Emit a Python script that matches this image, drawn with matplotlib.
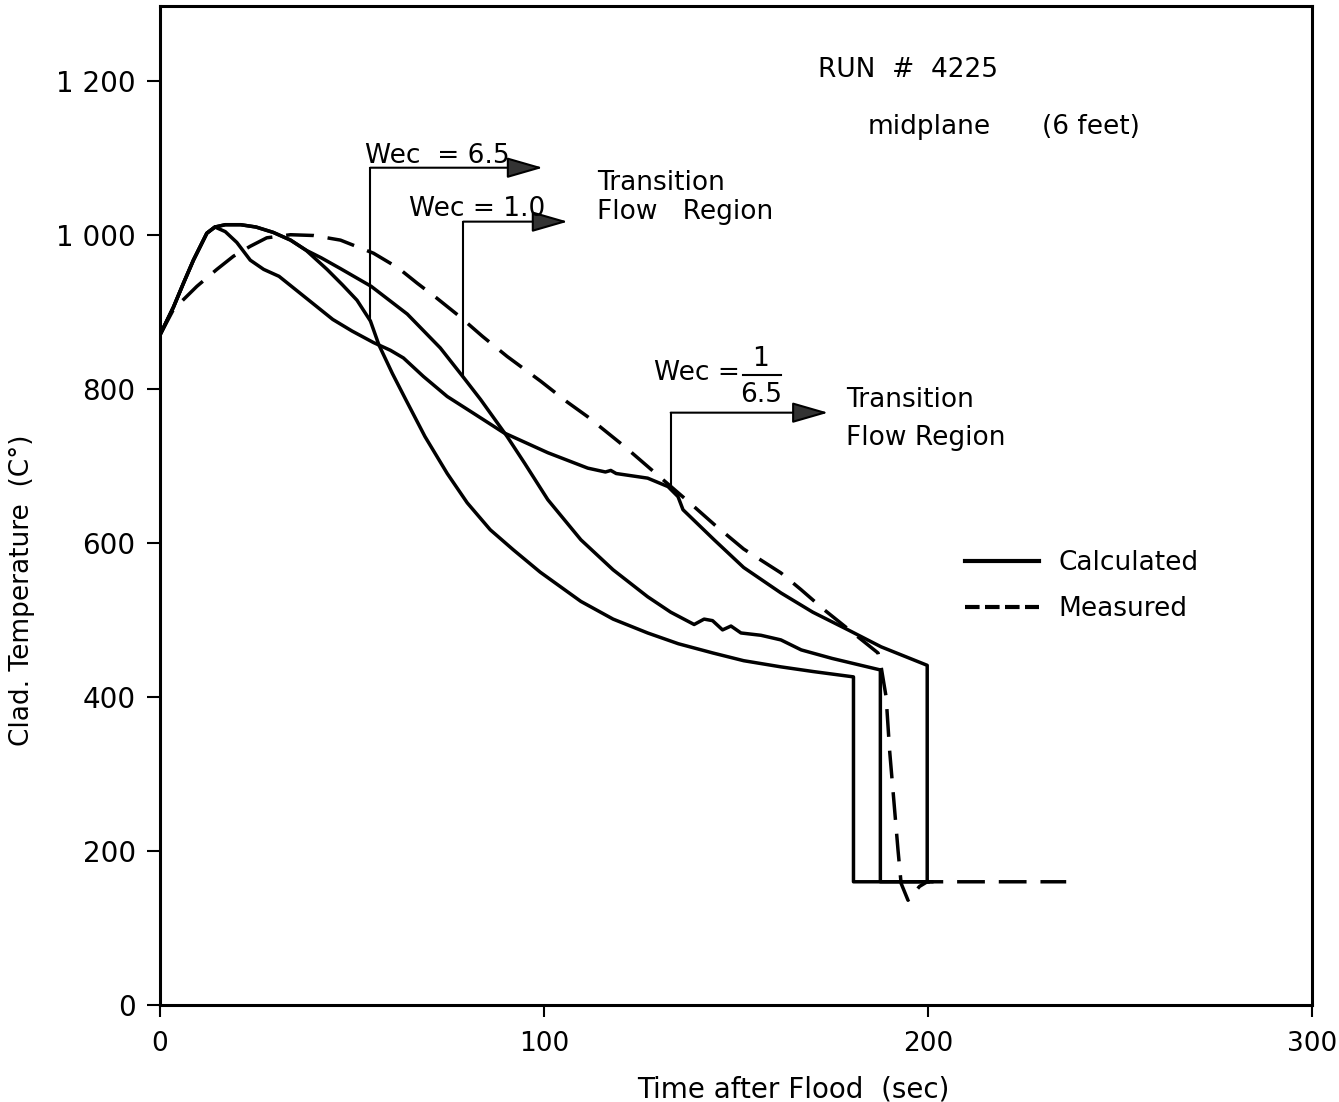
import numpy as np
import matplotlib
matplotlib.use('Agg')
import matplotlib.pyplot as plt
from matplotlib.lines import Line2D

# cladding temperature after flood, run 4225
# calculated, Wec = 6.5
t_wec65 = [0, 3.5, 6.1, 8.7, 10.4, 12.2, 14.3, 17, 21, 25, 29.5, 34, 38, 43.5, 47.5,
           51.3, 54.8, 57, 60.5, 64, 69, 74.8, 80, 86, 92, 99, 109.6, 118, 127, 135,
           144, 152, 161.7, 170, 180.6, 180.6, 200]
T_wec65 = [870, 906, 937, 967, 984, 1002, 1010, 1013, 1013, 1010, 1003, 993, 980, 955, 935,
           915, 888, 857, 820, 786, 738, 690, 652, 617, 591, 562, 524, 501, 483, 469,
           457, 447, 439, 433, 426, 160, 160]

# calculated, Wec = 1.0
t_wec10 = [0, 3.5, 6.1, 8.7, 10.4, 12.2, 14.3, 17, 21, 25, 29.5, 34, 38, 42, 47, 55,
           64.4, 73, 79, 83.5, 90.4, 95, 101, 109.6, 118, 127, 133, 139.1, 141.7, 143.9,
           146.5, 148.7, 151.3, 156.5, 161.7, 167, 175, 187.6, 187.6, 200]
T_wec10 = [870, 906, 937, 967, 984, 1002, 1010, 1013, 1013, 1010, 1003, 993, 980, 970, 956, 933,
           897, 853, 815, 786, 738, 703, 656, 604, 565, 530, 510, 494, 501, 499,
           487, 492, 483, 480, 474, 461, 450, 435, 160, 160]

# calculated, Wec = 1/6.5
t_wec015 = [0, 3.5, 6.1, 8.7, 10.4, 12.2, 14.3, 17, 20, 23.5, 27, 31, 38, 45, 50, 55.6,
            60, 63.4, 68.6, 74.8, 81.7, 89.5, 101, 111.4, 116, 117.4, 118.8, 127, 132.3,
            134.9, 136.2, 144.3, 152, 161.7, 170, 179.2, 187.8, 199.8, 199.8, 201]
T_wec015 = [870, 906, 937, 967, 984, 1002, 1010, 1004, 990, 967, 955, 946, 918, 890, 875, 860,
            850, 840, 816, 790, 768, 743, 717, 697, 692, 694, 690, 684, 673,
            660, 643, 604, 568, 535, 510, 487, 465, 441, 160, 160]

# measured
t_meas = [0, 3.5, 9.6, 14.8, 19.1, 23.5, 27.8, 34, 40, 47, 55.6, 62, 67, 72, 78, 84,
          90.4, 99.1, 106, 111.3, 121, 129.6, 137.5, 144.3, 152, 161.7, 167, 173, 180,
          187, 187.8, 189.1, 190, 192.2, 193, 194.8, 197.8, 199.8, 236]
T_meas = [870, 903, 933, 955, 972, 985, 996, 1000, 999, 993, 976, 957, 937, 918, 894, 868,
          842, 810, 783, 764, 725, 688, 654, 624, 592, 561, 539, 513, 485,
          457, 439, 400, 331, 201, 158, 136, 154, 160, 160]

# Wec markers: time where the regime changes, height of the arrow, arrow tip
wec_time = [54.8, 79, 133]
wec_top = [1087, 1017, 769]
wec_tip = [99.7, 106.2, 174]

yticks = [0, 200, 400, 600, 800, 1000, 1200]
ytick_labels = ['0', '200', '400', '600', '800', '1 000', '1 200']
xticks = [0, 100, 200, 300]

plt.rcParams['font.family'] = ['DejaVu Sans']

fig = plt.figure(figsize=(13.39, 11.02), dpi=100)
ax = fig.add_axes([0.1195, 0.088, 0.8603, 0.9066])

lw = 2.5
ax.plot(t_wec65, T_wec65, color='k', lw=lw, solid_joinstyle='round')
ax.plot(t_wec10, T_wec10, color='k', lw=lw, solid_joinstyle='round')
ax.plot(t_wec015, T_wec015, color='k', lw=lw, solid_joinstyle='round')
ax.plot(t_meas, T_meas, color='k', lw=lw, dashes=(8, 4))

# regime change markers
curves = [(t_wec65, T_wec65), (t_wec10, T_wec10), (t_wec015, T_wec015)]
for (tc, Tc), x0, ytop, xtip in zip(curves, wec_time, wec_top, wec_tip):
    ybot = np.interp(x0, tc, Tc)
    ax.plot([x0, x0], [ybot, ytop], color='k', lw=1.5)
    ax.annotate('', xy=(xtip, ytop), xytext=(x0, ytop),
                arrowprops=dict(arrowstyle='-|>,head_length=0.45,head_width=0.13',
                                mutation_scale=50, lw=1.5, ec='k', fc='#333333',
                                shrinkA=0, shrinkB=0))

fs = 19
ax.text(53.5, 1093, 'Wec  = 6.5', fontsize=fs, va='baseline')
ax.text(64.8, 1024, 'Wec = 1.0', fontsize=fs, va='baseline')
ax.text(113.9, 1058, 'Transition', fontsize=fs, va='baseline')
ax.text(113.9, 1020, 'Flow   Region', fontsize=fs, va='baseline')

ax.text(128.7, 820, 'Wec =', fontsize=fs, va='center')
ax.text(156.3, 829, '1', fontsize=fs, va='baseline', ha='center')
ax.plot([151.8, 161.7], [818, 818], color='k', lw=1.5)
ax.text(156.5, 809, '6.5', fontsize=fs, va='top', ha='center')
ax.text(178.7, 777, 'Transition', fontsize=fs, va='baseline')
ax.text(178.7, 727, 'Flow Region', fontsize=fs, va='baseline')

ax.text(171.3, 1205, 'RUN  #  4225', fontsize=fs, va='baseline')
ax.text(184.3, 1131, 'midplane', fontsize=fs, va='baseline')
ax.text(229.6, 1131, '(6 feet)', fontsize=fs, va='baseline')

handles = [Line2D([], [], color='k', lw=3),
           Line2D([], [], color='k', lw=3, dashes=(3.5, 1.3))]
ax.legend(handles, ['Calculated', 'Measured'], loc='upper left',
          bbox_to_anchor=(0.6988, 0.4555), frameon=False, fontsize=fs,
          handlelength=2.8, handletextpad=0.75, labelspacing=0.75,
          borderpad=0, borderaxespad=0)

ax.set_xlim(0, 300)
ax.set_ylim(0, 1297)
ax.set_xticks(xticks)
ax.set_yticks(yticks)
ax.set_yticklabels(ytick_labels)
ax.tick_params(axis='y', direction='out', length=9.5, width=1.5, pad=8, labelsize=20)
ax.tick_params(axis='x', direction='out', length=8.5, width=1.5, pad=10, labelsize=19)
for s in ax.spines.values():
    s.set_linewidth(2.2)

ax.set_xlabel('Time after Flood  (sec)', fontsize=20)
ax.xaxis.set_label_coords(0.55, -0.071)
ax.set_ylabel('Clad. Temperature  (C°)', fontsize=19)
ax.yaxis.set_label_coords(-0.1085, 0.4154)

fig.savefig('out.png', dpi=100)
